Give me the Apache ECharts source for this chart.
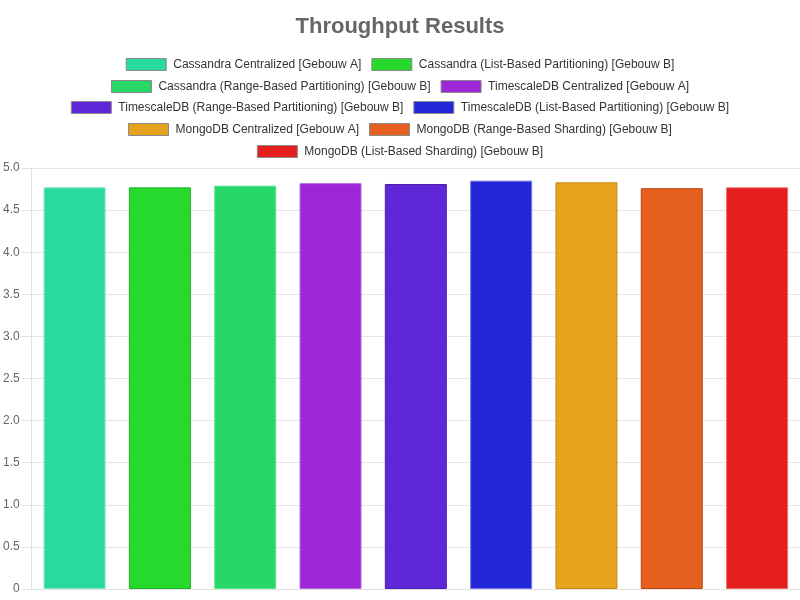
<!DOCTYPE html>
<html>
<head>
<meta charset="utf-8">
<script src="https://cdn.jsdelivr.net/npm/echarts@6/dist/echarts.min.js"></script>
<style>
  html, body { margin: 0; padding: 0; background: #fff; }
  #chart { width: 800px; height: 600px; }
</style>
</head>
<body>
<div id="chart"></div>
<script>
const seriesNames = [
  'Cassandra Centralized [Gebouw A]',
  'Cassandra (List-Based Partitioning) [Gebouw B]',
  'Cassandra (Range-Based Partitioning) [Gebouw B]',
  'TimescaleDB Centralized [Gebouw A]',
  'TimescaleDB (Range-Based Partitioning) [Gebouw B]',
  'TimescaleDB (List-Based Partitioning) [Gebouw B]',
  'MongoDB Centralized [Gebouw A]',
  'MongoDB (Range-Based Sharding) [Gebouw B]',
  'MongoDB (List-Based Sharding) [Gebouw B]'
]
const throughput = [4.77, 4.77, 4.79, 4.82, 4.81, 4.85, 4.83, 4.76, 4.77]
const fillColors = ['#29d9a0', '#27d92c', '#27d869', '#9e27d9', '#6027d9', '#2427d9', '#e5a31e', '#e55f1e', '#e51e1e']
const borderColors = ['#7fe8c6', '#1fb524', '#5ce38f', '#b767e3', '#4a1fb0', '#7577e6', '#c98a12', '#b84a14', '#ec6a6a']
const categories = ['']
// which legend entries share a row
const legendRows = [[0, 1], [2, 3], [4, 5], [6, 7], [8]]
const legendTops = [58, 80, 101, 123, 145]

const chart = echarts.init(document.getElementById('chart'))

const legends = legendRows.map((row, i) => ({
  data: row.map(k => ({ name: seriesNames[k], icon: 'rect' })),
  left: 'center',
  top: legendTops[i],
  padding: 0,
  itemWidth: 40,
  itemHeight: 12,
  itemGap: 10,
  itemStyle: { borderColor: '#8a8a8a', borderWidth: 1 },
  textStyle: { color: '#333', fontSize: 12, fontFamily: 'Arial', padding: [0, 0, 0, 2] }
}))

chart.setOption({
  animation: false,
  title: {
    text: 'Throughput Results',
    left: 'center',
    top: 11,
    textStyle: { color: '#666', fontSize: 22, fontWeight: 'bold', fontFamily: 'Arial' }
  },
  legend: legends,
  grid: { left: 30, right: 0, top: 168, bottom: 11 },
  xAxis: {
    type: 'category',
    data: categories,
    axisLine: { lineStyle: { color: '#e0e0e0' } },
    axisTick: { show: false },
    axisLabel: { show: false }
  },
  yAxis: {
    type: 'value',
    min: 0,
    max: 5,
    interval: 0.5,
    axisLine: { show: true, lineStyle: { color: '#e0e0e0' } },
    axisTick: { show: true, length: 10, lineStyle: { color: '#e0e0e0' } },
    splitLine: { lineStyle: { color: '#e6e6e6' } },
    axisLabel: {
      color: '#666',
      fontSize: 12,
      fontFamily: 'Arial',
      margin: 12,
      formatter: v => (v === 0 ? '0' : v.toFixed(1))
    }
  },
  series: seriesNames.map((name, i) => ({
    name: name,
    type: 'bar',
    data: [throughput[i]],
    barWidth: 62,
    barGap: '37.6%',
    itemStyle: { color: fillColors[i], borderColor: borderColors[i], borderWidth: 1 }
  }))
})
</script>
</body>
</html>
